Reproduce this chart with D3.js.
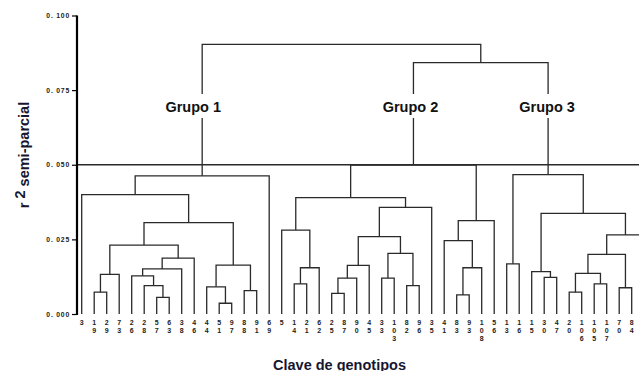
<!DOCTYPE html>
<html>
<head>
<meta charset="utf-8">
<script src="https://cdn.jsdelivr.net/npm/d3@7"></script>
<style>
  html, body { margin: 0; padding: 0; background: #fff; overflow: hidden; }
  svg { display: block; }
  text { font-family: "Liberation Sans", Arial, sans-serif; }
</style>
</head>
<body>
<svg id="chart" width="639" height="371"></svg>
<script>
// ---------------- data ----------------
// leaf (genotype) labels in dendrogram order; the last leaf lies beyond the cropped right edge
const leafLabels = [
  "3","19","29","73","26","28","57","63","38","46","44","51","97","88","91","69",
  "5","14","21","62","25","87","90","45","33","103","82","96","35","41","83","93","108","56",
  "13","16","15","30","47","20","106","105","107","70","84",""
];
// merges: [child A, child B, r² semi-parcial]; "#k" refers to merge k, otherwise a leaf label
const merges = [
  ["19","29",0.0073],   // 0
  ["#0","73",0.0133],   // 1
  ["57","63",0.0056],   // 2
  ["28","#2",0.0095],   // 3
  ["26","#3",0.0128],   // 4
  ["#4","38",0.0151],   // 5
  ["#5","46",0.0187],   // 6
  ["#1","#6",0.0231],   // 7
  ["51","97",0.0036],   // 8
  ["44","#8",0.0091],   // 9
  ["88","91",0.0078],   // 10
  ["#9","#10",0.0164],  // 11
  ["#7","#11",0.0306],  // 12
  ["3","#12",0.0400],   // 13
  ["#13","69",0.0463],  // 14  Grupo 1
  ["14","21",0.0101],   // 15
  ["#15","62",0.0155],  // 16
  ["5","#16",0.0281],   // 17
  ["25","87",0.0069],   // 18
  ["#18","90",0.0120],  // 19
  ["#19","45",0.0163],  // 20
  ["33","103",0.0120],  // 21
  ["82","96",0.0095],   // 22
  ["#21","#22",0.0203], // 23
  ["#20","#23",0.0259], // 24
  ["#24","35",0.0357],  // 25
  ["#17","#25",0.0390], // 26
  ["83","93",0.0064],   // 27
  ["#27","108",0.0155], // 28
  ["41","#28",0.0246],  // 29
  ["#29","56",0.0313],  // 30
  ["#26","#30",0.0499], // 31  Grupo 2
  ["13","16",0.0168],   // 32
  ["30","47",0.0123],   // 33
  ["15","#33",0.0142],  // 34
  ["20","106",0.0073],  // 35
  ["105","107",0.0101], // 36
  ["#35","#36",0.0136], // 37
  ["70","84",0.0088],   // 38
  ["#37","#38",0.0200], // 39
  ["#39","",0.0265],    // 40
  ["#34","#40",0.0337], // 41
  ["#32","#41",0.0467], // 42  Grupo 3
  ["#31","#42",0.0842], // 43
  ["#14","#43",0.0903]  // 44  root
];
const groupNames = ["Grupo 1","Grupo 2","Grupo 3"];
const groupMerges = [14, 31, 42];
const cutHeight = 0.050;
const yTicks = [0, 0.025, 0.05, 0.075, 0.1];
const yTitle = ["r", "2", " semi-parcial"];
const xTitle = "Clave de genotipos";

// ---------------- drawing ----------------
const svg = d3.select("#chart");
const W = 639, H = 371;
svg.append("rect").attr("width", W).attr("height", H).attr("fill", "#fff");

const x = d3.scalePoint().domain(d3.range(leafLabels.length)).range([81.7, 644.2]);
const y = d3.scaleLinear().domain([0, 0.1]).range([314, 15.5]);
const axisX = 77;

const pos = {};
leafLabels.forEach((l, i) => { pos["L" + l] = { x: x(i), y: y(0) }; });
const key = c => c.startsWith("#") ? "M" + c.slice(1) : "L" + c;

const linkG = svg.append("g").attr("fill", "none").attr("stroke", "#2a2a2a").attr("stroke-width", 1.3);
merges.forEach((m, k) => {
  const a = pos[key(m[0])], b = pos[key(m[1])];
  const yy = y(m[2]);
  pos["M" + k] = { x: (a.x + b.x) / 2, y: yy };
  linkG.append("path")
    .attr("d", `M${a.x},${a.y}V${yy}H${b.x}V${b.y}`);
});

// cut line
svg.append("line")
  .attr("x1", axisX).attr("x2", W)
  .attr("y1", y(cutHeight)).attr("y2", y(cutHeight))
  .attr("stroke", "#2a2a2a").attr("stroke-width", 1.3);

// group labels (with white gap in vertical stem)
const gOff = [-9, -3, -1];
groupNames.forEach((g, i) => {
  const p = pos["M" + groupMerges[i]];
  svg.append("rect")
    .attr("x", p.x - 6).attr("y", 94).attr("width", 12).attr("height", 24)
    .attr("fill", "#fff");
  svg.append("text")
    .attr("x", p.x + gOff[i]).attr("y", 111.5)
    .attr("text-anchor", "middle")
    .attr("font-size", 14.5).attr("font-weight", "bold").attr("fill", "#111")
    .text(g);
});

// leaf labels (digits stacked)
const labG = svg.append("g").attr("font-size", 7).attr("font-weight", "bold")
  .attr("fill", "#222").attr("text-anchor", "middle");
leafLabels.forEach((l, i) => {
  l.split("").forEach((ch, r) => {
    labG.append("text").attr("x", x(i)).attr("y", 324.5 + r * 8).text(ch);
  });
});

// y axis
const yAxis = d3.axisLeft(y).tickValues(yTicks).tickSize(5).tickPadding(2)
  .tickFormat(d => "0. " + d3.format(".3f")(d).split(".")[1]);
const ax = svg.append("g").attr("transform", `translate(${axisX},0)`).call(yAxis);
ax.select(".domain").attr("stroke", "#000").attr("stroke-width", 2.2)
  .attr("d", `M0,${y(0.1)}V${y(0) + 1}`);
ax.selectAll(".tick line").attr("stroke", "#000").attr("stroke-width", 1.2);
ax.selectAll(".tick text")
  .attr("font-family", "'Liberation Sans', Arial, sans-serif")
  .attr("font-size", 6.8).attr("font-weight", "bold").attr("fill", "#222")
  .attr("letter-spacing", 0.8);

// y title
const yt = svg.append("text")
  .attr("transform", `translate(29,155) rotate(-90)`)
  .attr("text-anchor", "middle")
  .attr("font-size", 14.5).attr("font-weight", "bold").attr("fill", "#161630");
yt.append("tspan").text(yTitle[0] + " ");
yt.append("tspan").attr("dy", -4).text(yTitle[1]);
yt.append("tspan").attr("dy", 4).text(yTitle[2]);

// x title
svg.append("text")
  .attr("x", 339.5).attr("y", 369.5)
  .attr("text-anchor", "middle")
  .attr("font-size", 14.5).attr("font-weight", "bold").attr("fill", "#161630")
  .text(xTitle);
</script>
</body>
</html>
